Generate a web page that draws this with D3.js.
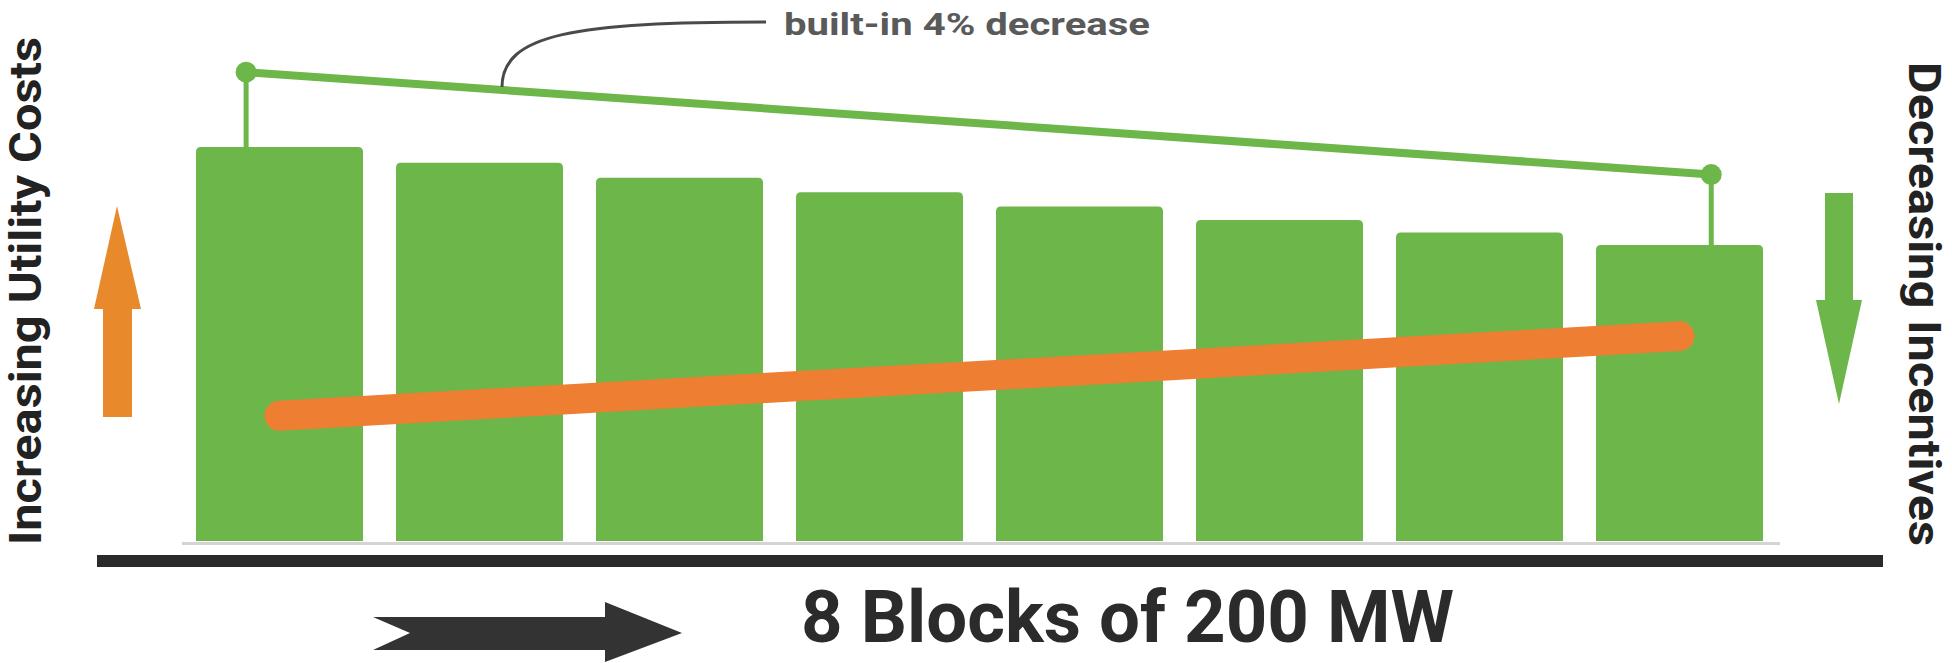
<!DOCTYPE html>
<html>
<head>
<meta charset="utf-8">
<script src="https://cdn.jsdelivr.net/npm/d3@7"></script>
<style>
  html, body { margin: 0; padding: 0; background: #fff; }
  svg { display: block; font-family: Roboto, "Liberation Sans", sans-serif; }
</style>
</head>
<body>
<main></main>
<script>
const blocks = ['Block 1', 'Block 2', 'Block 3', 'Block 4', 'Block 5', 'Block 6', 'Block 7', 'Block 8']
const incentive = [100, 96, 92.2, 88.5, 84.9, 81.5, 78.3, 75.1]
const utilityCost = [31.8, 34.7, 37.6, 40.5, 43.3, 46.2, 49.1, 52.0]
const trendBlocks = ['Block 1', 'Block 8']
const trendValues = [119, 93]
const labels = {
  left: 'Increasing Utility Costs',
  right: 'Decreasing Incentives',
  note: 'built-in 4% decrease',
  title: '8 Blocks of 200 MW'
}

const width = 1952
const height = 663
const green = '#6db649'
const orange = '#ee7e32'

const x = d3.scaleBand().domain(blocks).range([196, 1763]).paddingInner(0.165).paddingOuter(0)
const y = d3.scaleLinear().domain([0, 100]).range([541, 147])
const bw = x.bandwidth()

const svg = d3.select('main').append('svg')
  .attr('width', width)
  .attr('height', height)

// bars, rounded on top only
const topRounded = (x0, y0, w, h, r) =>
  `M${x0},${y0 + h}V${y0 + r}Q${x0},${y0} ${x0 + r},${y0}H${x0 + w - r}Q${x0 + w},${y0} ${x0 + w},${y0 + r}V${y0 + h}Z`

svg.append('g')
  .selectAll('path')
  .data(blocks.map((b, i) => ({ key: b, value: incentive[i] })))
  .enter().append('path')
    .attr('fill', green)
    .attr('d', d => topRounded(x(d.key), y(d.value), bw, y(0) - y(d.value), 5))

// thin baseline and thick axis bar
svg.append('line')
  .attr('x1', 182).attr('x2', 1780)
  .attr('y1', y(0) + 2.5).attr('y2', y(0) + 2.5)
  .attr('stroke', '#d4d4d4').attr('stroke-width', 3)

svg.append('line')
  .attr('x1', 97).attr('x2', 1883)
  .attr('y1', 561).attr('y2', 561)
  .attr('stroke', '#2a2a2a').attr('stroke-width', 12)

// utility cost line
svg.append('path')
  .datum(blocks.map((b, i) => [x(b) + bw / 2, y(utilityCost[i])]))
  .attr('fill', 'none')
  .attr('stroke', orange)
  .attr('stroke-width', 30)
  .attr('stroke-linecap', 'round')
  .attr('d', d3.line())

// 4% decrease reference line
const trendPts = trendBlocks.map((b, i) => ({
  x: x(b) + bw * (i === 0 ? 0.30 : 0.69),
  y: y(trendValues[i]),
  top: y(incentive[blocks.indexOf(b)])
}))

const trend = svg.append('g')
trend.selectAll('line.stem')
  .data(trendPts)
  .enter().append('line')
    .attr('class', 'stem')
    .attr('x1', d => d.x).attr('x2', d => d.x)
    .attr('y1', d => d.y).attr('y2', d => d.top + 6)
    .attr('stroke', green).attr('stroke-width', 5)

trend.append('line')
  .attr('x1', trendPts[0].x).attr('y1', trendPts[0].y)
  .attr('x2', trendPts[1].x).attr('y2', trendPts[1].y)
  .attr('stroke', green).attr('stroke-width', 8)

trend.selectAll('circle')
  .data(trendPts)
  .enter().append('circle')
    .attr('cx', d => d.x).attr('cy', d => d.y)
    .attr('r', 10.5)
    .attr('fill', green)

// callout
const calloutX = 502
const calloutY = trendPts[0].y + (trendPts[1].y - trendPts[0].y) * (calloutX - trendPts[0].x) / (trendPts[1].x - trendPts[0].x) - 3
svg.append('path')
  .attr('d', `M${calloutX},${calloutY}C${calloutX},${34} 575,22 766,22`)
  .attr('fill', 'none')
  .attr('stroke', '#4a4a4a')
  .attr('stroke-width', 3)

svg.append('text')
  .attr('x', 784).attr('y', 35)
  .attr('font-size', 31).attr('font-weight', 700)
  .attr('fill', '#5a5a5a')
  .attr('textLength', 366).attr('lengthAdjust', 'spacingAndGlyphs')
  .text(labels.note)

// side arrows
svg.append('path')
  .attr('d', 'M103,417V309H94L117,206L141,309H132V417Z')
  .attr('fill', '#e8892b')

svg.append('path')
  .attr('d', 'M1825,193V300H1816L1839,404L1862,300H1853V193Z')
  .attr('fill', green)

// side labels
svg.append('text')
  .attr('transform', 'translate(41,291) rotate(-90)')
  .attr('text-anchor', 'middle')
  .attr('font-size', 44).attr('font-weight', 700)
  .attr('fill', '#222')
  .attr('textLength', 508).attr('lengthAdjust', 'spacingAndGlyphs')
  .text(labels.left)

svg.append('text')
  .attr('transform', 'translate(1909,304) rotate(90)')
  .attr('text-anchor', 'middle')
  .attr('font-size', 45).attr('font-weight', 700)
  .attr('fill', '#222')
  .attr('textLength', 484).attr('lengthAdjust', 'spacingAndGlyphs')
  .text(labels.right)

// bottom arrow and title
svg.append('path')
  .attr('d', 'M373,617H605V602L682,633L605,662V650H373L410,633Z')
  .attr('fill', '#333')

svg.append('text')
  .attr('x', 801).attr('y', 642)
  .attr('font-size', 72).attr('font-weight', 700)
  .attr('fill', '#2b2b2b')
  .attr('textLength', 653).attr('lengthAdjust', 'spacingAndGlyphs')
  .text(labels.title)
</script>
</body>
</html>
